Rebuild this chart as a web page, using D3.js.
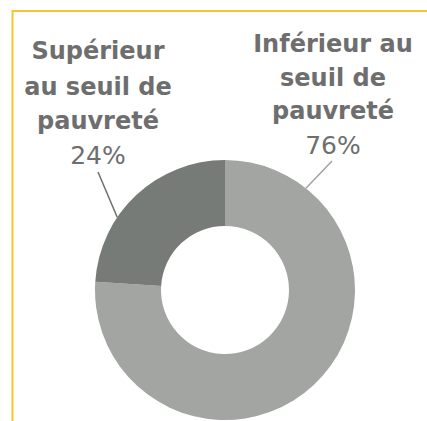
<!DOCTYPE html>
<html>
<head>
<meta charset="utf-8">
<script src="https://cdn.jsdelivr.net/npm/d3@7"></script>
<style>
  body { margin: 0; background: #fff; }
</style>
</head>
<body>
<div id="chart"></div>
<script>
// data
var categories = ["Inférieur au seuil de pauvreté", "Supérieur au seuil de pauvreté"];
var values = [76, 24];
var labelLines = [["Inférieur au", "seuil de", "pauvreté"], ["Supérieur", "au seuil de", "pauvreté"]];
var colors = ["#a3a5a2", "#777b77"];

var width = 427, height = 421;
var cx = 225, cy = 290, outer = 130, inner = 64;

var svg = d3.select("#chart").append("svg")
  .attr("width", width)
  .attr("height", height);

// yellow frame, left and top only
svg.append("path")
  .attr("d", "M12.5,421 L12.5,11 L427,11")
  .attr("fill", "none")
  .attr("stroke", "#f6c630")
  .attr("stroke-width", 2);

var pie = d3.pie().sort(null).value(function(d) { return d; });
var arc = d3.arc().outerRadius(outer).innerRadius(inner);
var arcs = pie(values);

var g = svg.append("g").attr("transform", "translate(" + cx + "," + cy + ")");
g.selectAll(".arc").data(arcs).enter().append("path")
  .attr("class", "arc")
  .attr("d", arc)
  .attr("fill", function(d, i) { return colors[i]; });

// label placement (layout), leader goes to a point on the outer edge
var labelPos = [
  { x: 333, ys: [52, 86, 119, 154], lineFrom: [332, 161], edgeAngle: 38.5, lineColor: "#a0a2a0" },
  { x: 98, ys: [59, 95, 129, 164], lineFrom: [98, 172], edgeAngle: -56, lineColor: "#6e6e6e" }
];

labelPos.forEach(function(p, i) {
  var t = svg.append("text")
    .attr("text-anchor", "middle")
    .attr("fill", "#6e6e6e")
    .style("font-family", "'DejaVu Sans', sans-serif");
  labelLines[i].forEach(function(s, k) {
    t.append("tspan")
      .attr("x", p.x)
      .attr("y", p.ys[k])
      .style("font-weight", "bold")
      .style("font-size", "24px")
      .text(s);
  });
  t.append("tspan")
    .attr("x", p.x)
    .attr("y", p.ys[3])
    .style("font-size", "25px")
    .text(values[i] + "%");

  var a = p.edgeAngle * Math.PI / 180;
  var pt = d3.arc().innerRadius(outer).outerRadius(outer).startAngle(a).endAngle(a).centroid();
  svg.append("line")
    .attr("x1", p.lineFrom[0]).attr("y1", p.lineFrom[1])
    .attr("x2", cx + pt[0]).attr("y2", cy + pt[1])
    .attr("stroke", p.lineColor)
    .attr("stroke-width", 1.5);
});
</script>
</body>
</html>
